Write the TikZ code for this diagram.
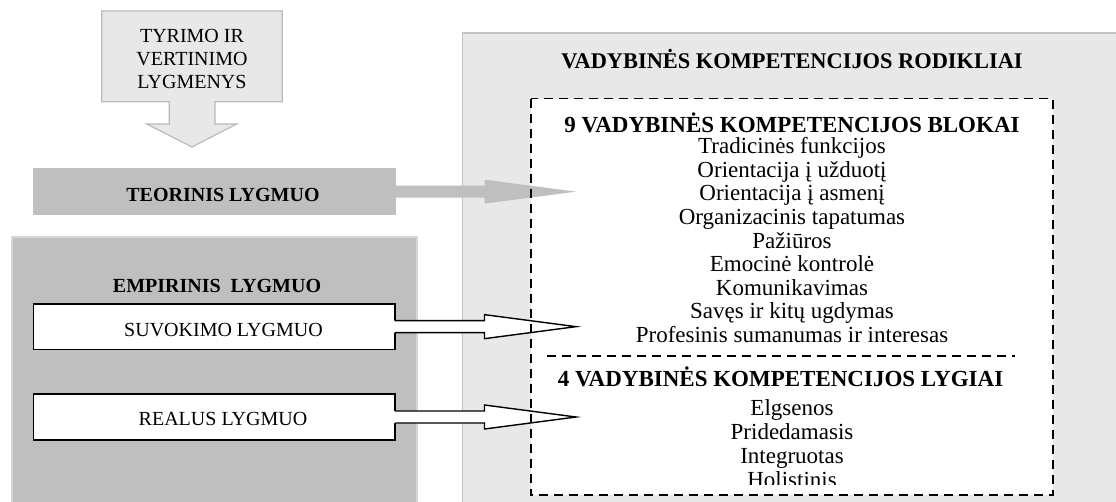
\documentclass[tikz,border=0pt]{standalone}
\usepackage{fontspec}
\setmainfont{Liberation Serif}
\usetikzlibrary{calc}
\definecolor{panelfill}{HTML}{E8E8E8}
\definecolor{paneledge}{HTML}{C3C3C3}
\definecolor{levelfill}{HTML}{BFBFBF}
\definecolor{leveledge}{HTML}{D6D6D6}
\definecolor{topedge}{HTML}{BABABA}
% block arrow leaving the east side of node #2 and ending at coordinate #3;
% #4 shifts the start of the path (negative = slightly inside the node)
\newcommand{\blockarrow}[4]{%
  \path[#1] ($(#2.east)+(#4,-6)$) -- ($(#3)+(-91.5,-6)$) -- ($(#3)+(-91.5,-12)$) -- (#3)
    -- ($(#3)+(-91.5,12)$) -- ($(#3)+(-91.5,6)$) -- ($(#2.east)+(#4,6)$);}
\begin{document}
\begin{tikzpicture}[x=1pt,y=-1pt,
  txt/.style={inner sep=0pt, anchor=base, font=\fontsize{20}{23}\selectfont},
  txtb/.style={txt, font=\fontsize{20}{23}\selectfont\bfseries},
  item/.style={inner sep=0pt, anchor=base, font=\fontsize{23}{24}\selectfont},
  head/.style={item, font=\fontsize{23}{24}\selectfont\bfseries},
  box/.style={rectangle, inner sep=0pt, outer sep=0pt, anchor=north west},
  dashline/.style={line width=1.8pt, dash pattern=on 9pt off 6pt},
]
\useasboundingbox (0,0) rectangle (1116,501);

% right-hand panel with the framed list
\node[box, fill=panelfill, draw=paneledge, line width=1.5pt,
      minimum width=700pt, minimum height=520pt] (panel) at (462.3,33) {};
\node[box, fill=white, minimum width=522.3pt, minimum height=396.5pt] (frame) at (530.7,98.5) {};

% downward block arrow at the top
\path[fill=panelfill, draw=topedge, line width=1.2pt]
  (101.7,11) -- (282.3,11) -- (282.3,101.7) -- (215,101.7) -- (215,124) -- (236.7,124)
  -- (192,147) -- (146.7,124) -- (169.3,124) -- (169.3,101.7) -- (101.7,101.7) -- cycle;
\node[txt, anchor=north, align=center] (tyr) at (192,29.3) {TYRIMO IR\\VERTINIMO\\LYGMENYS};

% levels
\node[box, fill=levelfill, draw=leveledge, line width=2pt,
      minimum width=405.2pt, minimum height=300pt] (emp) at (11.5,237.3) {};
\node[box, fill=levelfill, minimum width=362.2pt, minimum height=46.7pt] (teo) at (33.3,168.3) {};
\node[box, fill=white, draw=black, line width=1.4pt,
      minimum width=361.3pt, minimum height=45.3pt] (suv) at (33.7,304) {};
\node[box, fill=white, draw=black, line width=1.4pt,
      minimum width=361.3pt, minimum height=46pt] (real) at (33.7,394) {};

\node[txtb] (teoL) at (223,201) {TEORINIS LYGMUO};
\node[txtb] (empL) at (217,292.3) {EMPIRINIS\ \ LYGMUO};
\node[txt] (suvL) at (223.5,336.7) {SUVOKIMO LYGMUO};
\node[txt] (realL) at (223,425.7) {REALUS LYGMUO};

% arrow tips
\coordinate (tT) at (576,191.65);
\coordinate (tS) at (576,326.65);
\coordinate (tR) at (576,417);

\blockarrow{fill=levelfill}{teo}{tT}{-1}
\blockarrow{fill=white}{suv}{tS}{-1.5}
\blockarrow{draw=black, line width=1.4pt}{suv}{tS}{0}
\blockarrow{fill=white}{real}{tR}{-1.5}
\blockarrow{draw=black, line width=1.4pt}{real}{tR}{0}

% dashed frame and divider
\draw[dashline] (frame.north west) rectangle (frame.south east);
\draw[dashline] (547,356) -- (1015,356);

% texts of the panel
\node[head, font=\fontsize{22.4}{24}\selectfont\bfseries] (ttl) at (792,68.3) {VADYBINĖS KOMPETENCIJOS RODIKLIAI};
\node[head] (hb) at (792,132.8) {9 VADYBINĖS KOMPETENCIJOS BLOKAI};
\foreach \t [count=\i from 0] in {Tradicinės funkcijos, Orientacija į užduotį, Orientacija į asmenį,
    Organizacinis tapatumas, Pažiūros, Emocinė kontrolė, Komunikavimas,
    Savęs ir kitų ugdymas, Profesinis sumanumas ir interesas}
  \node[item] (b\i) at (792,{153.6+23.6*\i}) {\t};
\node[head] (hl) at (780.5,386.7) {4 VADYBINĖS KOMPETENCIJOS LYGIAI};
\begin{scope}
  \clip (531,395) rectangle (1053,484.5);
  \foreach \t [count=\i from 0] in {Elgsenos, Pridedamasis, Integruotas, Holistinis}
    \node[item] (l\i) at (792,{415+24.1*\i}) {\t};
\end{scope}
\end{tikzpicture}
\end{document}
